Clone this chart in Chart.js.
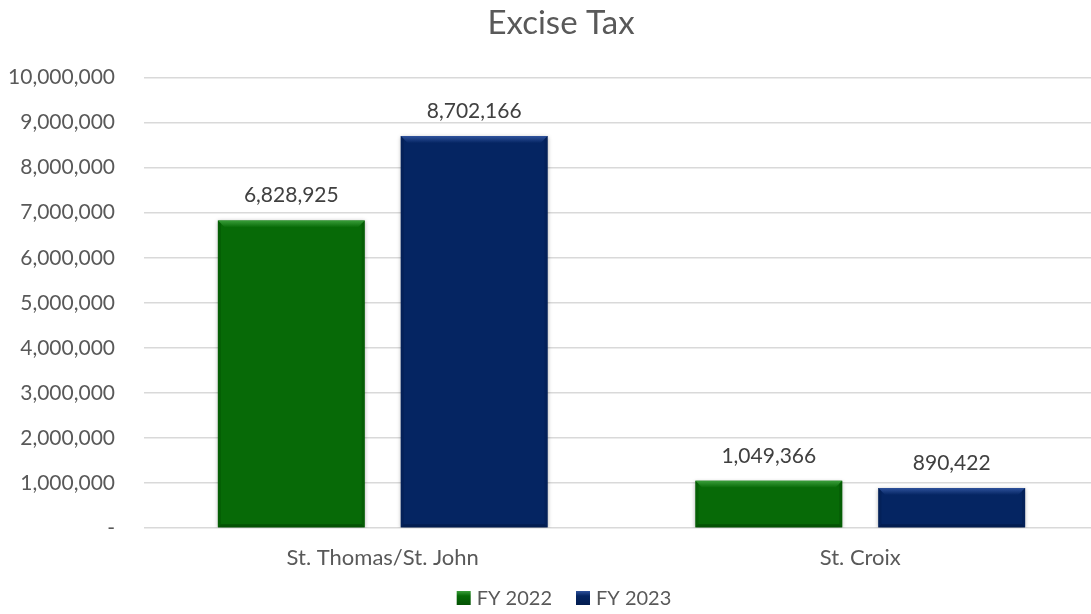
<!DOCTYPE html>
<html>
<head>
<meta charset="utf-8">
<script src="https://cdn.jsdelivr.net/npm/chart.js@4.4.1/dist/chart.umd.min.js"></script>
<style>
  html, body { margin: 0; padding: 0; background: #ffffff; overflow: hidden; }
  #wrap { position: relative; width: 1122px; height: 614px; }
</style>
</head>
<body>
<div id="wrap"><canvas id="c" width="1122" height="614"></canvas></div>
<script>
const categories = ['St. Thomas/St. John', 'St. Croix'];
const seriesNames = ['FY 2022', 'FY 2023'];
const fy2022 = [6828925, 1049366];
const fy2023 = [8702166, 890422];
const yTicks = [0, 1000000, 2000000, 3000000, 4000000, 5000000, 6000000, 7000000, 8000000, 9000000, 10000000];

const FONT = 'Lato, "Open Sans", sans-serif';
const TEXT = '#595959';
const fills = ['#076a07', '#052562'];
const lights = ['#3a9e3a', '#2f529c'];
const darks = ['#045204', '#031d50'];

function fmt(v) { return v === 0 ? '-' : Math.round(v).toLocaleString('en-US'); }

const titleShift = {
  id: 'titleShift',
  afterLayout(chart) {
    if (chart.titleBlock) chart.titleBlock.left += 23;
  }
};

const bevelPlugin = {
  id: 'bevel',
  afterDatasetsDraw(chart) {
    const ctx = chart.ctx;
    chart.data.datasets.forEach((ds, di) => {
      const meta = chart.getDatasetMeta(di);
      meta.data.forEach((bar) => {
        const w = bar.width, l = bar.x - w / 2, r = bar.x + w / 2, t = bar.y, b = bar.base;
        const bv = 7, bb = 3;
        ctx.save();
        const g = ctx.createLinearGradient(0, t, 0, t + bv);
        g.addColorStop(0, lights[di]);
        g.addColorStop(1, fills[di]);
        ctx.fillStyle = g;
        ctx.beginPath();
        ctx.moveTo(l, t); ctx.lineTo(r, t); ctx.lineTo(r - bv, t + bv); ctx.lineTo(l + bv, t + bv); ctx.closePath(); ctx.fill();
        ctx.fillStyle = darks[di];
        ctx.beginPath();
        ctx.moveTo(l, b); ctx.lineTo(r, b); ctx.lineTo(r - bb, b - bb); ctx.lineTo(l + bb, b - bb); ctx.closePath(); ctx.fill();
        ctx.globalAlpha = 0.5;
        ctx.beginPath();
        ctx.moveTo(l, t); ctx.lineTo(l + bb, t + bb); ctx.lineTo(l + bb, b - bb); ctx.lineTo(l, b); ctx.closePath(); ctx.fill();
        ctx.beginPath();
        ctx.moveTo(r, t); ctx.lineTo(r - bb, t + bb); ctx.lineTo(r - bb, b - bb); ctx.lineTo(r, b); ctx.closePath(); ctx.fill();
        ctx.restore();
      });
    });
  }
};

const shadowPlugin = {
  id: 'barShadow',
  beforeDatasetsDraw(chart) {
    const ctx = chart.ctx;
    ctx.save();
    ctx.shadowColor = 'rgba(0,0,0,0.3)';
    ctx.shadowBlur = 4;
    ctx.shadowOffsetX = 0;
    ctx.shadowOffsetY = 1;
  },
  afterDatasetsDraw(chart) {
    chart.ctx.restore();
  }
};

const labelPlugin = {
  id: 'valueLabels',
  afterDraw(chart) {
    const ctx = chart.ctx;
    ctx.save();
    ctx.font = '21px ' + FONT;
    ctx.fillStyle = '#404040';
    ctx.textAlign = 'center';
    ctx.textBaseline = 'middle';
    chart.data.datasets.forEach((ds, di) => {
      const meta = chart.getDatasetMeta(di);
      meta.data.forEach((bar, i) => {
        ctx.fillText(fmt(ds.data[i]), bar.x, bar.y - 25);
      });
    });
    ctx.restore();
  }
};

const legendPlugin = {
  id: 'customLegend',
  afterDraw(chart) {
    const ctx = chart.ctx;
    const box = 14, gapText = 6, gapItem = 24, fontSize = 20;
    ctx.save();
    ctx.font = fontSize + 'px ' + FONT;
    const widths = seriesNames.map(s => ctx.measureText(s).width);
    const total = widths.reduce((a, w) => a + box + gapText + w, 0) + gapItem * (seriesNames.length - 1);
    const cx = (chart.titleBlock.left + chart.titleBlock.right) / 2 + 3;
    const cy = chart.chartArea.bottom + 70;
    let x = cx - total / 2;
    seriesNames.forEach((s, i) => {
      const g = ctx.createLinearGradient(0, cy - box / 2, 0, cy + box / 2);
      g.addColorStop(0, lights[i]);
      g.addColorStop(0.35, fills[i]);
      g.addColorStop(1, darks[i]);
      ctx.fillStyle = g;
      ctx.fillRect(x, cy - box / 2, box, box);
      ctx.fillStyle = TEXT;
      ctx.textAlign = 'left';
      ctx.textBaseline = 'middle';
      ctx.fillText(s, x + box + gapText, cy + 1);
      x += box + gapText + widths[i] + gapItem;
    });
    ctx.restore();
  }
};

new Chart(document.getElementById('c'), {
  type: 'bar',
  data: {
    labels: categories,
    datasets: [
      { label: seriesNames[0], data: fy2022, backgroundColor: fills[0], borderWidth: 0,
        categoryPercentage: 0.766, barPercentage: 0.803 },
      { label: seriesNames[1], data: fy2023, backgroundColor: fills[1], borderWidth: 0,
        categoryPercentage: 0.766, barPercentage: 0.803 }
    ]
  },
  options: {
    responsive: false,
    animation: false,
    devicePixelRatio: 1,
    layout: { padding: { left: 0, right: 23, top: 0, bottom: 40 } },
    plugins: {
      title: {
        display: true,
        text: 'Excise Tax',
        color: TEXT,
        font: { family: FONT, size: 33, weight: 'normal' },
        padding: { top: 4, bottom: 34 }
      },
      legend: { display: false },
      tooltip: { enabled: false }
    },
    scales: {
      x: {
        grid: { display: false },
        border: { display: false },
        afterFit(scale) { scale.height = 46; },
        ticks: { color: TEXT, font: { family: FONT, size: 22 }, padding: 9 }
      },
      y: {
        min: 0,
        max: 10000000,
        afterFit(scale) { scale.width = 144; },
        afterBuildTicks(scale) { scale.ticks = yTicks.map(v => ({ value: v })); },
        grid: { color: '#d9d9d9', lineWidth: 1.5, drawTicks: false },
        border: { display: false },
        ticks: { color: TEXT, font: { family: FONT, size: 21 }, padding: 29, callback: (v) => fmt(v) }
      }
    }
  },
  plugins: [titleShift, shadowPlugin, bevelPlugin, labelPlugin, legendPlugin]
});
</script>
</body>
</html>
